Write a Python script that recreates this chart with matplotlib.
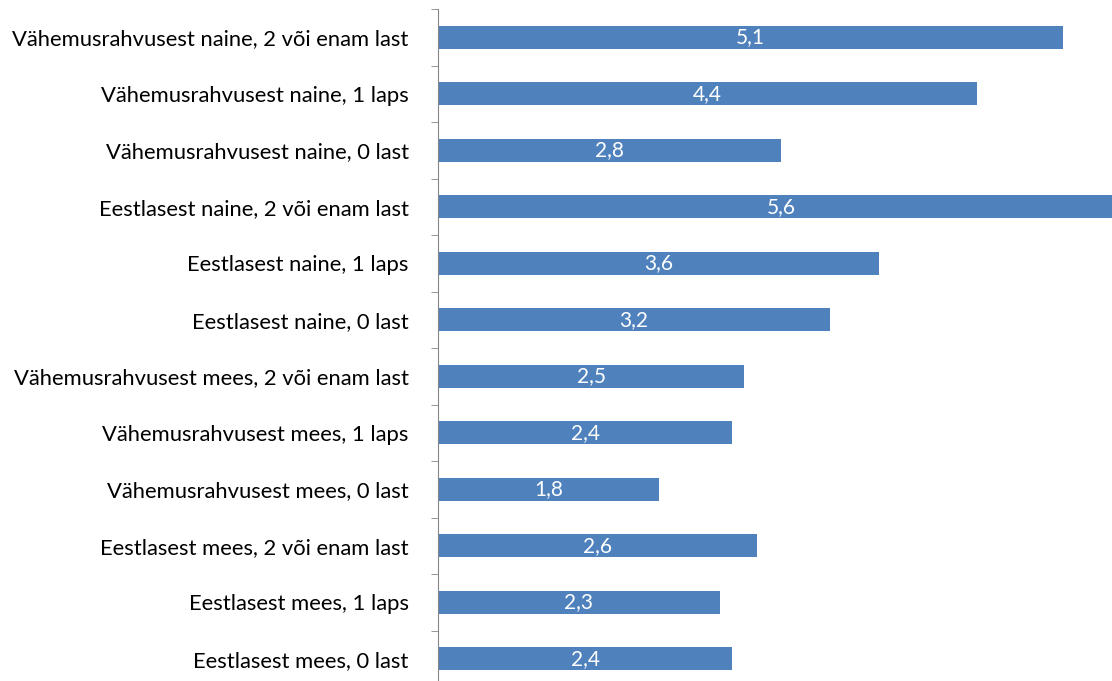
import matplotlib.pyplot as plt
import numpy as np

# categories listed top to bottom as in the chart
categories = [
    'Vähemusrahvusest naine, 2 või enam last',
    'Vähemusrahvusest naine, 1 laps',
    'Vähemusrahvusest naine, 0 last',
    'Eestlasest naine, 2 või enam last',
    'Eestlasest naine, 1 laps',
    'Eestlasest naine, 0 last',
    'Vähemusrahvusest mees, 2 või enam last',
    'Vähemusrahvusest mees, 1 laps',
    'Vähemusrahvusest mees, 0 last',
    'Eestlasest mees, 2 või enam last',
    'Eestlasest mees, 1 laps',
    'Eestlasest mees, 0 last',
]
values = [5.1, 4.4, 2.8, 5.6, 3.6, 3.2, 2.5, 2.4, 1.8, 2.6, 2.3, 2.4]

plt.rcParams['font.family'] = ['Lato', 'DejaVu Sans']

fig = plt.figure(figsize=(11.12, 6.81), dpi=100)
ax = fig.add_axes([438/1112, 1 - 687/681, 1 - 438/1112, 678/681])

y = np.arange(len(categories))
bars = ax.barh(y, values, height=0.4, color='#4F81BD')
for b, v in zip(bars, values):
    ax.text(b.get_width() / 2, b.get_y() + b.get_height() / 2,
            f'{v:.1f}'.replace('.', ','), color='white',
            ha='center', va='center', fontsize=15)

# longest bar runs off the right edge in the original
ax.set_ylim(len(categories) - 0.5, -0.5)
ax.set_xlim(0, 5.5)
ax.set_yticks(y)
ax.set_yticklabels(categories, fontsize=15.8)
ax.tick_params(axis='y', which='major', length=0, pad=21)
ax.set_yticks(np.arange(-0.5, len(categories) - 0.5, 1), minor=True)
ax.tick_params(axis='y', which='minor', length=5, color='#868686')
ax.set_xticks([])
for s in ['top', 'right', 'bottom']:
    ax.spines[s].set_visible(False)
ax.spines['left'].set_color('#868686')

fig.savefig('out.png', dpi=100)
